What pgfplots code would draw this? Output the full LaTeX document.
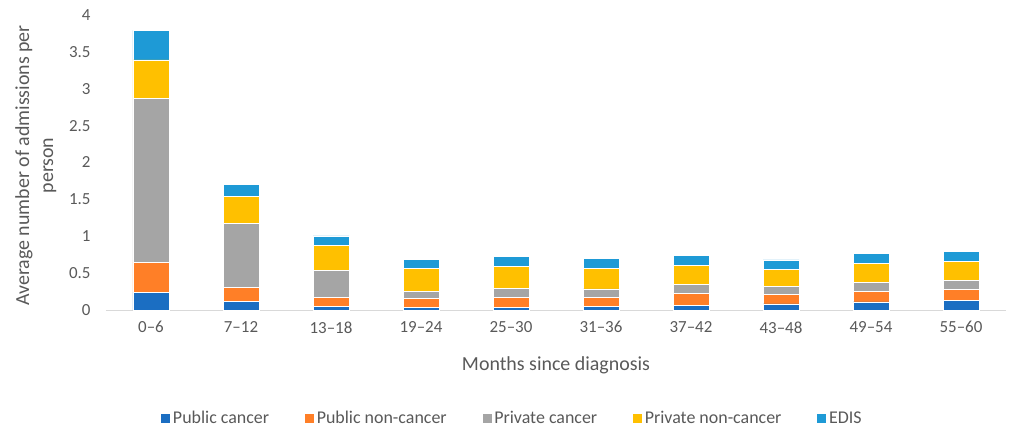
\documentclass[border=0pt]{standalone}
\usepackage{fontspec}
\setmainfont{Carlito}
\usepackage{pgfplots}
\pgfplotsset{compat=1.18}
\usepackage{pgfplotstable}

\definecolor{txt}{HTML}{595959}
\definecolor{pubc}{HTML}{1B6EC2}
\definecolor{pubn}{HTML}{FF7F27}
\definecolor{privc}{HTML}{A5A5A5}
\definecolor{privn}{HTML}{FFC000}
\definecolor{edis}{HTML}{1E9AD6}

\pgfplotstableread{
cat pc   pnc   prc   prn   edis
0   0.24  0.41  2.22  0.52  0.40
1   0.115 0.19  0.868 0.37  0.157
2   0.05  0.124 0.366 0.335 0.131
3   0.038 0.122 0.095 0.312 0.118
4   0.038 0.136 0.122 0.29  0.139
5   0.052 0.122 0.113 0.28  0.131
6   0.065 0.155 0.13  0.258 0.131
7   0.084 0.126 0.109 0.234 0.127
8   0.11  0.145 0.122 0.253 0.136
9   0.133 0.141 0.13  0.253 0.136
}\admissions

\begin{document}
\begin{tikzpicture}
\begin{axis}[
  scale only axis,
  width=900bp, height=295bp,
  ybar stacked, bar width=36bp,
  xmin=-0.5, xmax=9.5, ymin=0, ymax=4,
  xtick=data,
  xticklabels={0--6,7--12,13--18,19--24,25--30,31--36,37--42,43--48,49--54,55--60},
  ytick={0,0.5,...,4},
  axis x line*=bottom,
  axis y line*=left,
  x axis line style={-, draw=black!15, line width=1bp},
  y axis line style={draw=none},
  major tick length=0pt,
  tick style={draw=none},
  /pgf/number format/assume math mode=true,
  ticklabel style={font=\fontsize{17}{20}\selectfont, text=txt},
  xticklabel style={yshift=-8bp},
  yticklabel style={xshift=-12bp},
  xlabel={Months since diagnosis},
  xlabel style={at={(axis description cs:0.5,-0.186)}, anchor=center,
    font=\fontsize{20}{24}\selectfont, text=txt},
  ylabel={Average number of admissions per\\person},
  ylabel style={at={(axis description cs:-0.078,0.49)}, anchor=center,
    align=center, font=\fontsize{20}{24}\selectfont, text=txt},
  legend columns=5,
  legend style={draw=none, at={(axis description cs:0.4511,-0.366)}, anchor=center,
    font=\fontsize{18}{21}\selectfont, text=txt,
    /tikz/every even column/.append style={column sep=33bp}},
  legend image code/.code={\fill[#1] (0bp,-5bp) rectangle (10bp,5bp);},
  every axis plot/.append style={draw=white, line width=0.6bp},
]
\addplot[fill=pubc] table[x=cat,y=pc] {\admissions};
\addlegendentry{Public cancer}
\addplot[fill=pubn] table[x=cat,y=pnc] {\admissions};
\addlegendentry{Public non-cancer}
\addplot[fill=privc] table[x=cat,y=prc] {\admissions};
\addlegendentry{Private cancer}
\addplot[fill=privn] table[x=cat,y=prn] {\admissions};
\addlegendentry{Private non-cancer}
\addplot[fill=edis] table[x=cat,y=edis] {\admissions};
\addlegendentry{EDIS}
\end{axis}
\pgfresetboundingbox
\useasboundingbox (-106bp,-117bp) rectangle (903bp,310bp);
\end{tikzpicture}
\end{document}
